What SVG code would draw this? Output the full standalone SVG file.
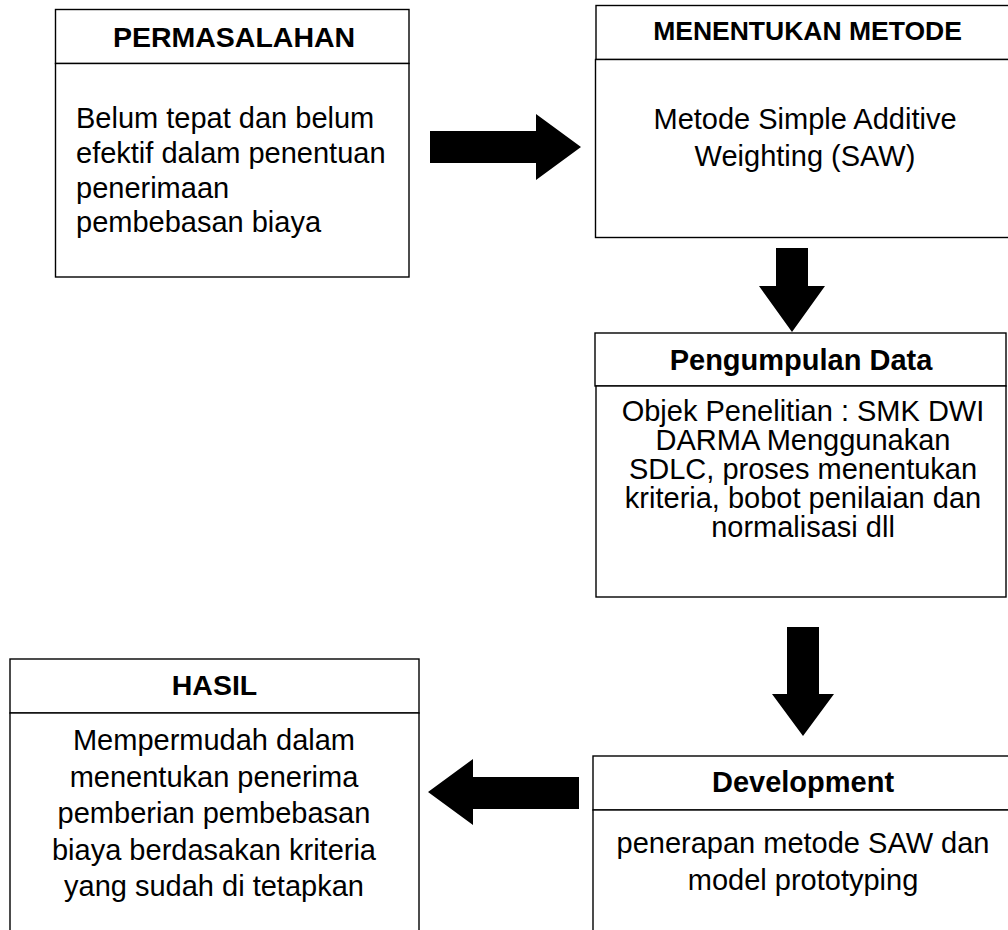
<svg xmlns="http://www.w3.org/2000/svg" width="1008" height="930" viewBox="0 0 1008 930">
<style>
.box{fill:#fff;stroke:#000;stroke-width:1.4}
.hd{font-family:"Liberation Sans",Arial,sans-serif;font-weight:bold;fill:#000;text-anchor:middle}
.bd{font-family:"Liberation Sans",Arial,sans-serif;font-size:29px;fill:#000}
.c{text-anchor:middle}
.arr{fill:#000}
</style>
<rect width="1008" height="930" fill="#fff"/>
<g id="connectors">
<polygon class="arr" points="430,131 536,131 536,114 581,147 536,180 536,163 430,163"/>
<polygon class="arr" points="776,248 808,248 808,286 825,286 792,332 759,286 776,286"/>
<polygon class="arr" points="787,627 819,627 819,694 834,694 803,736 772,694 787,694"/>
<polygon class="arr" points="579,777 473,777 473,759 428,792 473,825 473,809 579,809"/>
</g>
<g id="permasalahan">
<rect class="box" x="55.5" y="9.5" width="353.5" height="54"/>
<rect class="box" x="55.5" y="63.5" width="353.5" height="213.5"/>
<text class="hd" x="234" y="47" font-size="28.5">PERMASALAHAN</text>
<text class="bd" x="76" y="128">Belum tepat dan belum</text>
<text class="bd" x="76" y="163">efektif dalam penentuan</text>
<text class="bd" x="76" y="198">penerimaan</text>
<text class="bd" x="76" y="232">pembebasan biaya</text>
</g>
<g id="menentukan-metode">
<rect class="box" x="596" y="5.5" width="420" height="54"/>
<rect class="box" x="595.5" y="59.5" width="420" height="178"/>
<text class="hd" x="807.5" y="40" font-size="26.5">MENENTUKAN METODE</text>
<text class="bd c" x="805" y="129">Metode Simple Additive</text>
<text class="bd c" x="805" y="166">Weighting (SAW)</text>
</g>
<g id="pengumpulan-data">
<rect class="box" x="595" y="333" width="411" height="53"/>
<rect class="box" x="596" y="386" width="410" height="211"/>
<text class="hd" x="801" y="370" font-size="29">Pengumpulan Data</text>
<text class="bd c" x="803" y="420.5">Objek Penelitian : SMK DWI</text>
<text class="bd c" x="803" y="449.5">DARMA Menggunakan</text>
<text class="bd c" x="803" y="478.5">SDLC, proses menentukan</text>
<text class="bd c" x="803" y="507.5">kriteria, bobot penilaian dan</text>
<text class="bd c" x="803" y="536.5">normalisasi dll</text>
</g>
<g id="hasil">
<rect class="box" x="10" y="659" width="409" height="54"/>
<rect class="box" x="10" y="713" width="409" height="230"/>
<text class="hd" x="214.5" y="695" font-size="28.5">HASIL</text>
<text class="bd c" x="214" y="750">Mempermudah dalam</text>
<text class="bd c" x="214" y="787">menentukan penerima</text>
<text class="bd c" x="214" y="823">pemberian pembebasan</text>
<text class="bd c" x="214" y="860">biaya berdasakan kriteria</text>
<text class="bd c" x="214" y="896">yang sudah di tetapkan</text>
</g>
<g id="development">
<rect class="box" x="593" y="756" width="425" height="54"/>
<rect class="box" x="593" y="810" width="425" height="140"/>
<text class="hd" x="803" y="792" font-size="29">Development</text>
<text class="bd c" x="803" y="853">penerapan metode SAW dan</text>
<text class="bd c" x="803" y="890">model prototyping</text>
</g>
</svg>
